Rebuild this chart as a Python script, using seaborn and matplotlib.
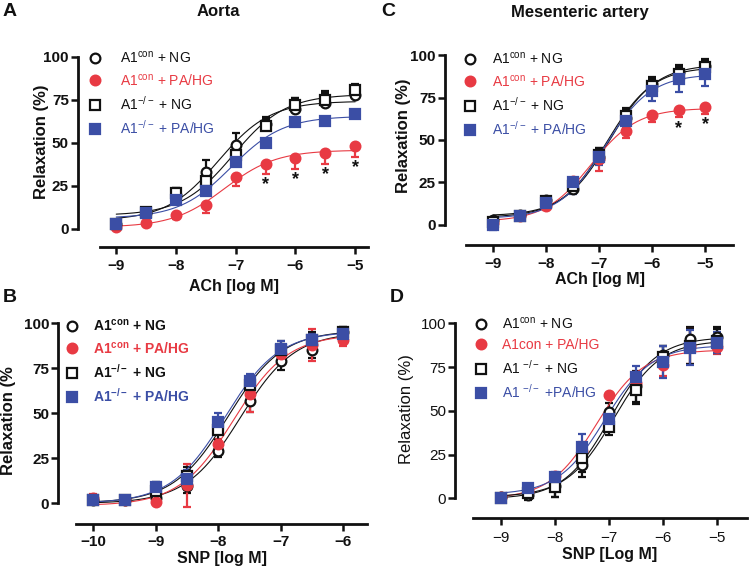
import numpy as np
import seaborn as sns
import matplotlib.pyplot as plt
from matplotlib.lines import Line2D

sns.set_theme(style="ticks")
plt.rcParams["font.family"] = ["Liberation Sans", "DejaVu Sans"]
plt.rcParams["mathtext.fontset"] = "custom"
plt.rcParams["mathtext.rm"] = "Liberation Sans"
plt.rcParams["mathtext.bf"] = "Liberation Sans:bold"
plt.rcParams["mathtext.it"] = "Liberation Sans:italic"

RED = "#e83a43"
BLUE = "#3b4ea5"
BLACK = "#111111"

# ---------------- data (mean, SEM) ----------------
# A: aorta, ACh
ach_a = [-9, -8.5, -8, -7.5, -7, -6.5, -6, -5.5, -5]
a_con_ng = [3, 9, 20, 33, 49, 61, 70, 73, 78]
a_con_ng_err = [1, 1, 4, 7, 7, 4, 6, 7, 5]
a_con_pa = [1, 3.5, 8, 14, 30, 38, 41, 44, 48]
a_con_pa_err = [1, 1, 2, 5, 5, 6, 6, 6, 6]
a_ko_ng = [3, 10, 21, 28, 43, 60, 72, 75, 81]
a_ko_ng_err = [1, 1, 3, 6, 5, 4, 4, 4, 3]
a_ko_pa = [3, 9, 17, 22, 39, 50, 62, 63, 67]
a_ko_pa_err = [1, 1, 2, 2, 2, 2, 2, 2, 2]
a_sig = [-6.5, -6, -5.5, -5]

# C: mesenteric artery, ACh
ach_c = [-9, -8.5, -8, -7.5, -7, -6.5, -6, -5.5, -5]
c_con_ng = [3, 6, 14.5, 21, 40, 63, 83, 90, 93.5]
c_con_ng_err = [1, 1, 1, 4, 5, 5, 4, 4, 4]
c_con_pa = [1, 5, 11, 26, 39, 55, 64.5, 67.5, 69.5]
c_con_pa_err = [1, 1, 2, 4, 7, 4, 4, 4, 4]
c_ko_ng = [1.5, 5.5, 14, 23, 41, 64, 82, 89, 93]
c_ko_ng_err = [1, 1, 1, 4, 4, 5, 4, 4, 4]
c_ko_pa = [0, 5, 13, 25, 40, 61, 79, 86, 89]
c_ko_pa_err = [3, 1, 2, 7, 5, 4, 6, 8, 7]
c_sig = [-5.5, -5]

# B: aorta, SNP
snp_b = [-10, -9.5, -9, -8.5, -8, -7.5, -7, -6.5, -6]
b_con_ng = [2, 2, 3, 9.5, 29, 57, 79, 85, 95]
b_con_ng_err = [1, 1, 2, 4, 3, 6, 5, 4, 3]
b_con_pa = [3, 2, 0.5, 10, 33, 61, 83, 88, 90.5]
b_con_pa_err = [2, 1, 1, 12, 3, 10, 4, 9, 3]
b_ko_ng = [2, 2, 7, 15, 41, 66, 85, 91, 95]
b_ko_ng_err = [2, 2, 5, 5, 6, 5, 5, 4, 3]
b_ko_pa = [2, 2, 9, 13.5, 45, 68, 86, 91, 94]
b_ko_pa_err = [1, 2, 3, 5, 5, 4, 4, 3, 3]

# D: mesenteric artery, SNP
snp_d = [-9, -8.5, -8, -7.5, -7, -6.5, -6, -5.5, -5]
d_con_ng = [1, 2, 7, 19, 49.5, 64, 82, 91, 92]
d_con_ng_err = [1, 3, 6, 7, 5, 9, 5, 7, 6]
d_con_pa = [1, 4, 12.5, 27, 59, 66, 76, 87, 86.5]
d_con_pa_err = [1, 2, 2, 5, 1, 6, 6, 10, 4]
d_ko_ng = [0, 3, 6.5, 23, 41, 62, 81, 87, 90]
d_ko_ng_err = [1, 3, 6, 8, 5, 8, 6, 10, 7]
d_ko_pa = [0, 6, 12, 29.5, 45.5, 69.5, 78, 86, 89]
d_ko_pa_err = [1, 2, 3, 7, 5, 6, 9, 10, 6]

labels_ac = [r"A1$^{\mathrm{con}}$ + NG", r"A1$^{\mathrm{con}}$ + PA/HG",
             r"A1$^{\mathrm{-/-}}$ + NG", r"A1$^{\mathrm{-/-}}$ + PA/HG"]
labels_b = [r"A1$^{\mathbf{con}}$ + NG", r"A1$^{\mathbf{con}}$ + PA/HG",
            r"A1$^{\mathbf{-/-}}$ + NG", r"A1$^{\mathbf{-/-}}$ + PA/HG"]
labels_d = [r"A1$^{\mathrm{con}}$ + NG", "A1con + PA/HG",
            r"A1 $^{\mathrm{-/-}}$ + NG", r"A1 $^{\mathrm{-/-}}$ +PA/HG"]

# marker, face, edge/line colour for the four groups
styles = [("o", "white", BLACK), ("o", RED, RED), ("s", "white", BLACK), ("s", BLUE, BLUE)]
text_colors = [BLACK, RED, BLACK, BLUE]


def fit_curve(x, y):
    # log(agonist) vs response, Hill slope 1, least squares on logEC50
    x = np.asarray(x, float)
    y = np.asarray(y, float)
    ec = np.linspace(-11, -4, 1401)
    s = 1 / (1 + 10 ** (ec[:, None] - x[None, :]))
    sm = s.mean(1, keepdims=True)
    a1 = ((s - sm) * (y - y.mean())).sum(1) / ((s - sm) ** 2).sum(1)
    a0 = y.mean() - a1 * sm[:, 0]
    res = ((a0[:, None] + a1[:, None] * s - y) ** 2).sum(1)
    i = res.argmin()
    xx = np.linspace(x.min(), x.max(), 200)
    return xx, a0[i] + a1[i] / (1 + 10 ** (ec[i] - xx))


W, H = 750, 575
fig = plt.figure(figsize=(W / 100, H / 100), dpi=100)


def px_rect(left, top, right, bottom):
    return [left / W, 1 - bottom / H, (right - left) / W, (bottom - top) / H]


panels = [
    dict(rect=px_rect(78, 55, 368, 247), xlim=(-9.64, -4.786), ylim=(-10.5, 101.1),
         xb=(-9.27, -4.786), x=ach_a,
         ys=[a_con_ng, a_con_pa, a_ko_ng, a_ko_pa],
         es=[a_con_ng_err, a_con_pa_err, a_ko_ng_err, a_ko_pa_err],
         one_sided=True, sig=a_sig, xticks=[-9, -8, -7, -6, -5],
         xlabel="ACh [log M]", ylabel="Relaxation (%)", bold_ticks=True, bold_ylab=True,
         ylab_xy=(-0.10, 0.55), xlab_xy=(0.538, -0.165), xpad=4,
         labels=labels_ac, leg_w="normal", leg_xy=(88, 50), leg_pad=1.3),
    dict(rect=px_rect(445, 53, 733, 245), xlim=(-9.906, -4.472), ylim=(-11.8, 101.2),
         xb=(-9.51, -4.472), x=ach_c,
         ys=[c_con_ng, c_con_pa, c_ko_ng, c_ko_pa],
         es=[c_con_ng_err, c_con_pa_err, c_ko_ng_err, c_ko_pa_err],
         one_sided=True, sig=c_sig, xticks=[-9, -8, -7, -6, -5],
         xlabel="ACh [log M]", ylabel="Relaxation (%)", bold_ticks=True, bold_ylab=True,
         ylab_xy=(-0.118, 0.57), xlab_xy=(0.538, -0.14), xpad=4,
         labels=labels_ac, leg_w="normal", leg_xy=(463, 51), leg_pad=1.1),
    dict(rect=px_rect(58.3, 321, 366.7, 524.3), xlim=(-10.56, -5.626), ylim=(-11.67, 101.3),
         xb=(-10.27, -5.626), x=snp_b,
         ys=[b_con_ng, b_con_pa, b_ko_ng, b_ko_pa],
         es=[b_con_ng_err, b_con_pa_err, b_ko_ng_err, b_ko_pa_err],
         one_sided=False, sig=[], xticks=[-10, -9, -8, -7, -6],
         xlabel="SNP [log M]", ylabel="Relaxation (%", bold_ticks=True, bold_ylab=True,
         ylab_xy=(-0.137, 0.508), xlab_xy=(0.53, -0.13), xpad=2.5,
         labels=labels_b, leg_w="bold", leg_xy=(65, 318), leg_pad=1.0),
    dict(rect=px_rect(455, 321, 746.7, 518.3), xlim=(-9.853, -4.441), ylim=(-11.43, 101.3),
         xb=(-9.51, -4.441), x=snp_d,
         ys=[d_con_ng, d_con_pa, d_ko_ng, d_ko_pa],
         es=[d_con_ng_err, d_con_pa_err, d_ko_ng_err, d_ko_pa_err],
         one_sided=False, sig=[], xticks=[-9, -8, -7, -6, -5],
         xlabel="SNP [Log M]", ylabel="Relaxation (%)", bold_ticks=False, bold_ylab=False,
         ylab_xy=(-0.14, 0.554), xlab_xy=(0.53, -0.145), xpad=4,
         labels=labels_d, leg_w="normal", leg_xy=(474, 316), leg_pad=1.0),
]

for p in panels:
    ax = fig.add_axes(p["rect"])
    x = np.asarray(p["x"], float)
    for k, (y, e) in enumerate(zip(p["ys"], p["es"])):
        marker, face, edge = styles[k]
        y = np.asarray(y, float)
        e = np.asarray(e, float)
        if p["one_sided"]:
            yerr = [np.zeros_like(e), e] if k in (0, 2) else [e, np.zeros_like(e)]
        else:
            yerr = [e, e]
        ax.errorbar(x, y, yerr=yerr, fmt="none", ecolor=edge, elinewidth=1.6,
                    capsize=3, capthick=1.6, zorder=2)
        xx, yy = fit_curve(x, y)
        sns.lineplot(x=xx, y=yy, ax=ax, color=edge, linewidth=0.8, zorder=2.5)
        ax.plot(x, y, marker, ls="none", ms=7, mfc=face, mec=edge, mew=1.6, zorder=3)

    # significance stars under the PA/HG (red) group
    red_y = np.asarray(p["ys"][1], float)
    red_e = np.asarray(p["es"][1], float)
    for sx in p["sig"]:
        i = list(p["x"]).index(sx)
        ax.text(sx, red_y[i] - red_e[i] - 1.5, "*", ha="center", va="top",
                fontsize=13, fontweight="bold", color=BLACK)

    ax.set_xlim(*p["xlim"])
    ax.set_ylim(*p["ylim"])
    ax.set_xticks(p["xticks"])
    ax.set_yticks([0, 25, 50, 75, 100])
    for side in ("top", "right"):
        ax.spines[side].set_visible(False)
    ax.spines["left"].set_bounds(0, 100)
    ax.spines["bottom"].set_bounds(*p["xb"])
    for side in ("left", "bottom"):
        ax.spines[side].set_linewidth(2)
        ax.spines[side].set_color(BLACK)
    ax.tick_params(axis="both", width=1.8, length=5, color=BLACK, labelcolor=BLACK,
                   labelsize=11)
    ax.tick_params(axis="y", pad=1.5)
    ax.tick_params(axis="x", pad=p["xpad"])
    tw = "bold" if p["bold_ticks"] else "normal"
    for t in ax.get_xticklabels() + ax.get_yticklabels():
        t.set_fontweight(tw)

    ax.set_xlabel(p["xlabel"], fontsize=11.5, fontweight="bold", color=BLACK)
    ax.set_ylabel(p["ylabel"], fontsize=12,
                  fontweight="bold" if p["bold_ylab"] else "normal", color=BLACK)
    ax.yaxis.set_label_coords(*p["ylab_xy"])
    ax.xaxis.set_label_coords(*p["xlab_xy"])

    handles = [Line2D([], [], marker=m, ls="none", ms=7, mfc=f, mec=ec, mew=1.6)
               for m, f, ec in styles]
    lx, ly = p["leg_xy"]
    ax.legend(handles, p["labels"], loc="upper left",
              bbox_to_anchor=(lx / W, 1 - ly / H), bbox_transform=fig.transFigure,
              frameon=False, labelcolor=text_colors,
              prop={"size": 10, "weight": p["leg_w"]},
              handlelength=1.0, handletextpad=p["leg_pad"], labelspacing=0.45,
              borderpad=0, borderaxespad=0)

# panel letters and titles
for letter, lx, ly in [("A", 3, 12), ("C", 381, 12), ("B", 3, 297), ("D", 390, 297)]:
    fig.text(lx / W, 1 - ly / H, letter, fontsize=14, fontweight="bold",
             ha="left", va="center", color=BLACK)
fig.text(218 / W, 1 - 12 / H, "Aorta", fontsize=12, fontweight="bold",
         ha="center", va="center", color=BLACK)
fig.text(580 / W, 1 - 12 / H, "Mesenteric artery", fontsize=12, fontweight="bold",
         ha="center", va="center", color=BLACK)

fig.savefig("out.png", dpi=100)
